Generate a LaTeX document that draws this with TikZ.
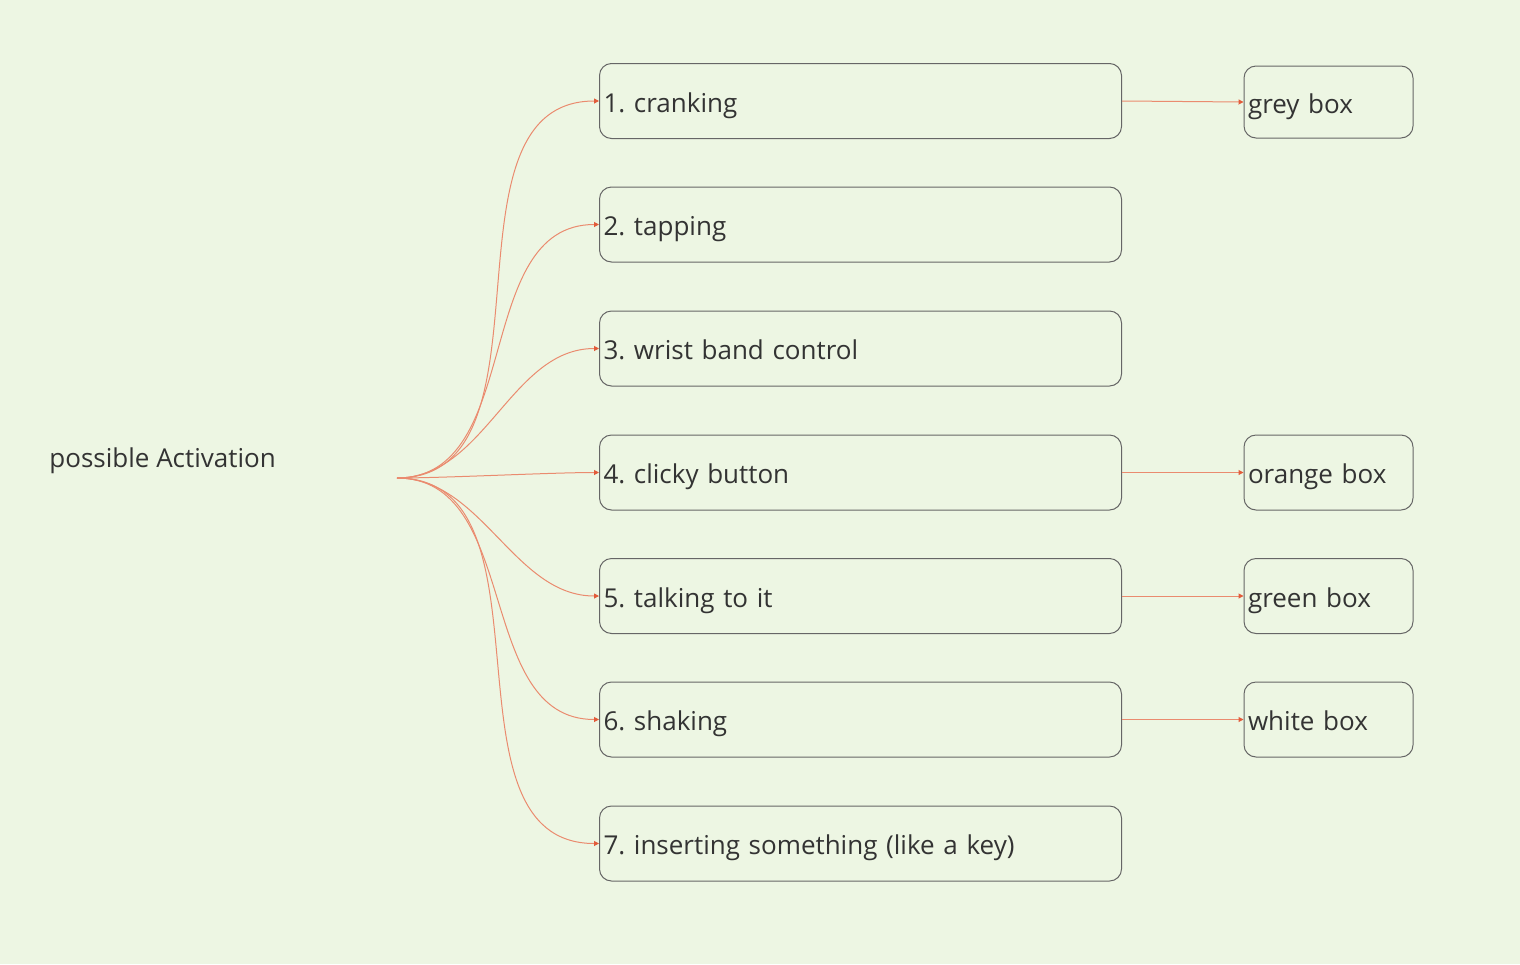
\documentclass[tikz,border=0pt]{standalone}
\usepackage{fontspec}
\setmainfont{Open Sans}
\frenchspacing
\usetikzlibrary{arrows.meta}
\definecolor{ink}{HTML}{333333}
\definecolor{frame}{HTML}{666666}
\definecolor{canvas}{HTML}{EDF6E3}
\definecolor{link}{HTML}{EA8B6F}
\definecolor{tip}{HTML}{E25B3A}

\begin{document}
\begin{tikzpicture}[
  x=0.5pt, y=-0.5pt,
  text=ink,
  idea/.style={draw=frame, line width=.5pt, rounded corners=6pt,
    fill=canvas, text width=257pt, minimum height=37.5pt,
    align=left, inner xsep=2pt, inner ysep=0pt,
    text height=11pt, text depth=0pt, font=\fontsize{13}{15}\selectfont},
  result/.style={idea, text width=80.5pt},
  branch/.style={-{Triangle[length=2.5pt,width=2.5pt,color=tip]}, draw=link, line width=.5pt}
]
  \fill[canvas] (0,0) rectangle (1520,964);
  \useasboundingbox (0,0) rectangle (1520,964);

  \node[anchor=base west, inner sep=0pt, font=\fontsize{13}{15}\selectfont] (root) at (49,467)
    {possible Activation};
  \coordinate (hub) at (397,478);

  \node[idea] (crank)  at (860.5,101)   {1. cranking};
  \node[idea] (tap)    at (860.5,224.5) {2. tapping};
  \node[idea] (wrist)  at (860.5,348.5) {3. wrist band control};
  \node[idea] (click)  at (860.5,472.5) {4. clicky button};
  \node[idea] (talk)   at (860.5,596)   {5. talking to it};
  \node[idea] (shake)  at (860.5,719.5) {6. shaking};
  \node[idea] (insert) at (860.5,843.5) {7. inserting something (like a key)};

  \node[result, minimum height=36pt] (grey) at (1328.5,102) {grey box};
  \node[result] (orange) at (1328.5,472.5) {orange box};
  \node[result] (green)  at (1328.5,596)   {green box};
  \node[result] (white)  at (1328.5,719.5) {white box};

  % the longer the drop, the longer the handles
  \draw[branch] (hub) .. controls +(168,0) and +(-168,0) .. (crank.west);
  \draw[branch] (hub) .. controls +(128,0) and +(-128,0) .. (tap.west);
  \draw[branch] (hub) .. controls +(88,0) and +(-88,0) .. (wrist.west);
  \draw[branch] (hub) .. controls +(48,0) and +(-48,0) .. (click.west);
  \draw[branch] (hub) .. controls +(85,0) and +(-85,0) .. (talk.west);
  \draw[branch] (hub) .. controls +(125,0) and +(-125,0) .. (shake.west);
  \draw[branch] (hub) .. controls +(166,0) and +(-166,0) .. (insert.west);

  \draw[branch] (crank.east) -- (grey.west);
  \draw[branch] (click.east) -- (orange.west);
  \draw[branch] (talk.east) -- (green.west);
  \draw[branch] (shake.east) -- (white.west);
\end{tikzpicture}
\end{document}
